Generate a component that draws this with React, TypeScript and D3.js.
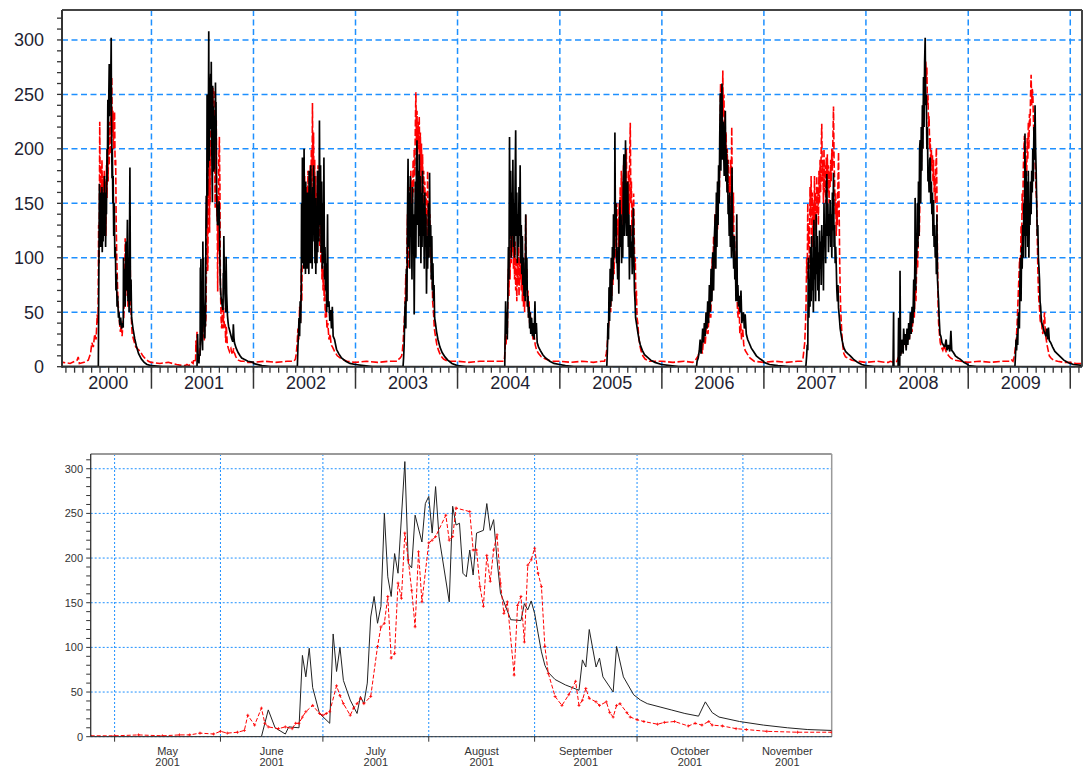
import React from 'react';
import * as d3 from 'd3';

// ---- daily flow, season 2001 (zoom panel), [date, value] ----
const black2001 = [
  ['2001-04-24', 0], ['2001-06-13', 0], ['2001-06-15', 30], ['2001-06-17', 10], ['2001-06-20', 3], ['2001-06-21', 11],
  ['2001-06-24', 10], ['2001-06-25', 91], ['2001-06-26', 67], ['2001-06-27', 99], ['2001-06-28', 55], ['2001-06-30', 26],
  ['2001-07-03', 15], ['2001-07-04', 115], ['2001-07-05', 73], ['2001-07-06', 100], ['2001-07-07', 63], ['2001-07-09', 41],
  ['2001-07-11', 26], ['2001-07-12', 45], ['2001-07-13', 37], ['2001-07-14', 60], ['2001-07-15', 134], ['2001-07-16', 157],
  ['2001-07-17', 127], ['2001-07-18', 146], ['2001-07-19', 250], ['2001-07-20', 179], ['2001-07-21', 157], ['2001-07-22', 205],
  ['2001-07-23', 183], ['2001-07-24', 246], ['2001-07-25', 308], ['2001-07-26', 194], ['2001-07-27', 189], ['2001-07-28', 248],
  ['2001-07-30', 218], ['2001-07-31', 261], ['2001-08-01', 269], ['2001-08-02', 228], ['2001-08-03', 280], ['2001-08-04', 224],
  ['2001-08-07', 151], ['2001-08-08', 258], ['2001-08-09', 237], ['2001-08-10', 239], ['2001-08-11', 183], ['2001-08-12', 179],
  ['2001-08-13', 209], ['2001-08-14', 181], ['2001-08-15', 228], ['2001-08-17', 231], ['2001-08-18', 261], ['2001-08-19', 231],
  ['2001-08-20', 243], ['2001-08-21', 198], ['2001-08-22', 161], ['2001-08-25', 131], ['2001-08-28', 130], ['2001-08-29', 149],
  ['2001-08-30', 142], ['2001-08-31', 152], ['2001-09-01', 138], ['2001-09-02', 116], ['2001-09-03', 95], ['2001-09-04', 80],
  ['2001-09-05', 72], ['2001-09-07', 64], ['2001-09-10', 58], ['2001-09-12', 55], ['2001-09-14', 52], ['2001-09-15', 86],
  ['2001-09-16', 78], ['2001-09-17', 120], ['2001-09-19', 78], ['2001-09-20', 88], ['2001-09-21', 67], ['2001-09-24', 50],
  ['2001-09-25', 101], ['2001-09-27', 67], ['2001-09-30', 47], ['2001-10-02', 41], ['2001-10-04', 37], ['2001-10-08', 33],
  ['2001-10-11', 30], ['2001-10-15', 26], ['2001-10-19', 23], ['2001-10-21', 39], ['2001-10-23', 27], ['2001-10-25', 22],
  ['2001-10-31', 17], ['2001-11-07', 13], ['2001-11-14', 10], ['2001-11-20', 8], ['2001-11-27', 7],
];

const red2001 = [
  ['2001-04-24', 1], ['2001-05-01', 1], ['2001-05-08', 2], ['2001-05-15', 1], ['2001-05-20', 2], ['2001-05-23', 2],
  ['2001-05-26', 4], ['2001-05-30', 3], ['2001-06-01', 6], ['2001-06-03', 4], ['2001-06-06', 5], ['2001-06-08', 7],
  ['2001-06-09', 24], ['2001-06-11', 13], ['2001-06-13', 32], ['2001-06-14', 15], ['2001-06-15', 11], ['2001-06-18', 9],
  ['2001-06-20', 11], ['2001-06-22', 9], ['2001-06-23', 15], ['2001-06-24', 15], ['2001-06-25', 22], ['2001-06-26', 28],
  ['2001-06-28', 35], ['2001-06-30', 26], ['2001-07-01', 24], ['2001-07-02', 26], ['2001-07-03', 28], ['2001-07-05', 57],
  ['2001-07-06', 46], ['2001-07-07', 37], ['2001-07-09', 24], ['2001-07-10', 32], ['2001-07-11', 37], ['2001-07-12', 43],
  ['2001-07-13', 37], ['2001-07-15', 45], ['2001-07-17', 101], ['2001-07-18', 123], ['2001-07-19', 127], ['2001-07-20', 157],
  ['2001-07-21', 88], ['2001-07-22', 93], ['2001-07-23', 172], ['2001-07-24', 155], ['2001-07-25', 228], ['2001-07-26', 198],
  ['2001-07-27', 164], ['2001-07-28', 123], ['2001-07-29', 207], ['2001-07-30', 151], ['2001-08-01', 217], ['2001-08-02', 220],
  ['2001-08-03', 224], ['2001-08-06', 248], ['2001-08-07', 220], ['2001-08-08', 224], ['2001-08-09', 256], ['2001-08-13', 252],
  ['2001-08-14', 209], ['2001-08-15', 209], ['2001-08-16', 168], ['2001-08-17', 146], ['2001-08-18', 203], ['2001-08-19', 174],
  ['2001-08-20', 209], ['2001-08-21', 226], ['2001-08-22', 172], ['2001-08-23', 138], ['2001-08-24', 151], ['2001-08-26', 69],
  ['2001-08-27', 147], ['2001-08-28', 157], ['2001-08-29', 106], ['2001-08-30', 192], ['2001-08-31', 198], ['2001-09-01', 211],
  ['2001-09-02', 183], ['2001-09-03', 168], ['2001-09-04', 101], ['2001-09-05', 71], ['2001-09-07', 45], ['2001-09-09', 35],
  ['2001-09-11', 47], ['2001-09-13', 62], ['2001-09-14', 35], ['2001-09-15', 41], ['2001-09-16', 54], ['2001-09-17', 43],
  ['2001-09-19', 39], ['2001-09-20', 35], ['2001-09-22', 39], ['2001-09-23', 27], ['2001-09-24', 22], ['2001-09-25', 35],
  ['2001-09-26', 37], ['2001-09-28', 27], ['2001-09-29', 22], ['2001-10-01', 19], ['2001-10-03', 17], ['2001-10-07', 14],
  ['2001-10-09', 16], ['2001-10-12', 17], ['2001-10-16', 12], ['2001-10-18', 15], ['2001-10-20', 13], ['2001-10-22', 17],
  ['2001-10-23', 13], ['2001-10-26', 12], ['2001-10-30', 9], ['2001-11-02', 8], ['2001-11-08', 6], ['2001-11-17', 5],
  ['2001-11-27', 5],
];

// ---- other years, [day of year, value] ----
const black2000 = [[0,0],[176,0],[178,95],[180,168],[181,120],[183,160],[184,110],[186,150],[187,125],[189,165],[190,105],[192,140],[193,115],[195,160],[196,120],[198,175],[199,130],[201,150],[202,110],[204,160],[205,140],[207,200],[208,170],[210,245],[211,200],[213,240],[215,278],[216,230],[218,265],[220,250],[222,302],[223,230],[225,173],[226,200],[228,150],[229,175],[231,120],[233,150],[235,100],[237,110],[239,70],[241,85],[243,55],[245,65],[248,45],[250,50],[253,38],[256,45],[259,35],[262,40],[265,36],[266,100],[268,60],[270,90],[272,55],[275,115],[277,70],[280,135],[282,60],[284,100],[286,50],[289,183],[291,60],[293,80],[295,45],[300,35],[306,26],[312,19],[320,12],[330,7],[340,4],[350,2],[364,1]];
const red2000 = [[0,3],[25,2],[50,4],[75,3],[100,6],[104,9],[108,3],[125,4],[140,6],[148,12],[153,22],[158,18],[163,30],[168,25],[172,48],[175,40],[177,130],[179,95],[181,225],[183,150],[185,185],[187,140],[189,190],[191,150],[193,175],[195,130],[197,180],[199,145],[201,170],[203,120],[205,185],[207,155],[209,200],[211,170],[213,215],[215,185],[217,225],[219,195],[221,240],[223,210],[224,266],[226,215],[228,235],[230,200],[232,225],[234,234],[236,185],[238,190],[240,130],[242,100],[244,80],[246,60],[249,50],[252,40],[255,32],[258,38],[261,28],[264,40],[267,45],[270,70],[272,118],[274,65],[276,70],[278,95],[280,100],[282,55],[285,60],[287,80],[290,95],[292,55],[294,45],[297,30],[302,25],[310,18],[318,16],[326,14],[335,10],[345,7],[355,5],[364,4]];
const black2001Head = [[0,1],[40,0]];
const black2001Tail = [[345,5],[364,4]];
const red2001Head = [[0,4],[30,3],[60,4],[90,2]];
const red2001Tail = [[345,4],[364,4]];
const black2002 = [[0,3],[30,1],[60,0],[157,0],[159,18],[161,30],[163,45],[165,28],[167,60],[169,40],[171,75],[172,150],[174,95],[175,192],[177,120],[178,165],[180,90],[181,200],[183,110],[184,150],[186,85],[187,170],[189,100],[190,140],[192,90],[193,160],[195,105],[196,145],[198,85],[199,180],[201,115],[202,155],[204,95],[205,185],[207,110],[209,150],[210,90],[212,165],[213,115],[215,185],[217,125],[218,175],[220,95],[222,155],[223,85],[225,135],[227,95],[229,180],[230,105],[232,165],[234,115],[236,226],[238,130],[240,185],[242,105],[244,170],[246,90],[248,150],[250,95],[252,192],[254,80],[256,110],[258,70],[260,95],[262,50],[265,140],[267,55],[270,60],[273,42],[276,52],[279,35],[282,55],[285,28],[290,25],[297,16],[305,12],[315,8],[330,5],[345,3],[364,2]];
const red2002 = [[0,4],[40,5],[80,4],[120,5],[145,5],[150,7],[153,12],[156,20],[159,35],[162,25],[165,55],[168,40],[171,90],[173,60],[175,130],[177,100],[179,160],[181,120],[183,175],[185,110],[187,150],[189,95],[191,165],[193,130],[195,180],[197,115],[199,160],[201,100],[203,185],[205,130],[207,200],[209,150],[211,242],[213,170],[215,215],[217,145],[219,190],[221,120],[223,175],[225,105],[227,160],[229,120],[231,185],[233,140],[235,170],[237,110],[239,150],[241,95],[243,130],[245,80],[247,110],[249,70],[251,90],[253,60],[255,75],[257,45],[260,55],[263,35],[266,40],[270,25],[274,30],[278,20],[283,18],[290,14],[300,10],[315,7],[335,5],[364,4]];
const black2003 = [[0,2],[30,1],[60,0],[170,0],[172,8],[174,20],[176,45],[178,60],[180,35],[182,90],[184,60],[186,140],[188,191],[190,110],[192,160],[194,90],[196,175],[198,120],[200,150],[202,80],[204,165],[206,110],[208,140],[210,48],[212,120],[214,170],[216,100],[218,190],[220,208],[222,130],[224,180],[226,110],[228,195],[230,120],[232,175],[234,95],[236,160],[238,110],[240,180],[242,120],[244,150],[246,90],[248,160],[250,110],[252,140],[254,67],[256,120],[258,90],[261,150],[263,100],[265,178],[267,110],[269,130],[271,80],[273,120],[275,70],[277,95],[279,60],[281,75],[283,45],[286,40],[290,32],[295,25],[302,18],[310,13],[320,9],[330,6],[345,3],[364,1]];
const red2003 = [[0,4],[40,5],[80,4],[120,5],[150,5],[155,7],[160,8],[165,10],[168,15],[171,25],[174,40],[177,55],[180,85],[182,60],[184,110],[186,140],[188,90],[190,150],[192,120],[194,165],[196,130],[198,180],[200,145],[202,170],[204,150],[206,190],[208,160],[210,200],[212,175],[214,220],[216,252],[218,205],[220,235],[222,190],[224,225],[226,200],[228,230],[230,185],[232,215],[234,175],[236,205],[238,160],[240,195],[242,150],[244,180],[246,140],[248,170],[250,130],[252,160],[254,150],[256,120],[258,180],[260,140],[262,150],[264,120],[266,140],[268,100],[270,110],[272,80],[274,90],[276,60],[279,50],[282,35],[286,28],[291,20],[297,15],[305,10],[315,7],[330,5],[364,5]];
const black2004 = [[0,1],[30,0],[169,0],[170,25],[172,60],[174,30],[176,50],[178,25],[180,65],[182,110],[184,80],[186,211],[188,120],[190,180],[192,100],[194,160],[196,120],[198,190],[200,110],[202,150],[204,100],[206,170],[208,217],[210,120],[212,160],[214,95],[216,140],[218,110],[220,165],[222,120],[224,185],[226,95],[228,130],[230,85],[232,120],[234,75],[236,100],[238,65],[240,90],[242,60],[244,140],[246,70],[248,100],[250,55],[252,65],[254,45],[256,55],[258,35],[260,50],[262,30],[265,45],[268,28],[271,40],[274,25],[277,60],[279,30],[282,40],[285,22],[290,18],[296,15],[305,11],[315,8],[330,5],[345,3],[365,2]];
const red2004 = [[0,5],[40,4],[80,5],[120,5],[150,5],[165,5],[168,8],[170,15],[172,30],[174,20],[176,45],[178,30],[180,60],[182,90],[184,65],[186,110],[188,80],[190,130],[192,95],[194,140],[196,105],[198,130],[200,90],[202,125],[204,80],[206,115],[208,70],[210,100],[212,60],[214,95],[216,75],[218,110],[220,65],[222,100],[224,80],[226,120],[228,70],[230,105],[232,60],[234,90],[236,55],[238,80],[240,50],[242,95],[244,139],[246,75],[248,90],[250,55],[252,70],[254,45],[256,60],[258,40],[261,50],[264,30],[267,35],[270,25],[274,30],[278,20],[283,15],[290,12],[300,9],[315,7],[335,5],[365,5]];
const black2005 = [[0,2],[20,1],[50,0],[168,0],[170,15],[172,40],[174,25],[176,73],[178,42],[180,90],[182,55],[184,100],[186,60],[188,110],[190,80],[192,140],[194,100],[196,130],[197,215],[199,120],[201,150],[203,95],[205,100],[207,80],[209,110],[211,67],[213,120],[215,153],[217,110],[219,140],[221,95],[223,130],[225,100],[227,170],[229,195],[231,120],[233,160],[235,208],[237,140],[239,120],[241,165],[243,170],[245,110],[247,140],[249,80],[251,120],[253,130],[255,100],[257,115],[259,85],[261,120],[263,146],[265,100],[267,70],[269,60],[271,45],[274,40],[277,35],[280,30],[284,24],[288,20],[295,15],[303,11],[312,9],[325,6],[340,4],[364,2]];
const red2005 = [[0,5],[40,4],[80,5],[120,4],[150,5],[160,5],[163,8],[166,12],[169,18],[172,30],[175,40],[178,55],[180,70],[182,50],[184,90],[186,65],[188,100],[190,75],[192,110],[194,85],[196,120],[198,100],[200,140],[202,110],[204,150],[206,120],[208,135],[210,105],[212,150],[214,120],[216,165],[218,130],[220,180],[222,140],[224,170],[226,125],[228,185],[230,150],[232,190],[234,145],[236,175],[238,200],[240,150],[242,170],[244,130],[246,180],[248,140],[250,195],[252,224],[254,150],[256,170],[258,120],[260,150],[262,110],[264,159],[266,120],[268,90],[270,100],[272,60],[274,70],[276,45],[279,40],[282,28],[286,20],[290,15],[297,10],[305,7],[320,5],[364,5]];
const black2006 = [[0,2],[30,1],[60,0],[124,0],[126,5],[130,8],[134,15],[137,25],[140,12],[143,20],[146,35],[149,22],[152,40],[155,28],[158,50],[161,35],[164,60],[167,40],[170,75],[173,50],[176,90],[179,60],[182,105],[185,70],[188,120],[191,140],[193,90],[195,160],[197,110],[199,170],[201,130],[203,185],[205,150],[207,210],[209,251],[211,180],[213,230],[215,260],[217,190],[219,225],[221,200],[223,175],[225,215],[227,235],[229,170],[231,200],[233,160],[235,190],[237,140],[239,150],[241,120],[243,160],[245,110],[247,140],[249,100],[251,183],[253,120],[255,110],[257,90],[259,120],[261,80],[263,100],[265,60],[268,140],[270,60],[272,75],[274,55],[277,65],[280,50],[283,70],[286,40],[289,45],[292,50],[295,35],[298,48],[302,30],[307,25],[312,22],[320,17],[328,14],[338,10],[352,7],[364,5]];
const red2006 = [[0,5],[40,4],[80,5],[110,4],[120,6],[125,8],[130,10],[135,15],[140,20],[145,12],[150,30],[155,20],[160,40],[165,30],[170,55],[175,45],[180,100],[182,70],[185,120],[188,90],[190,140],[193,110],[196,150],[199,125],[202,170],[205,150],[208,200],[210,260],[212,230],[214,250],[216,215],[218,272],[220,230],[222,250],[224,210],[226,235],[228,195],[230,215],[232,170],[234,200],[236,160],[238,190],[240,150],[242,175],[244,140],[246,190],[248,160],[250,220],[252,150],[254,130],[256,160],[258,110],[260,120],[262,90],[264,100],[266,70],[268,80],[270,55],[273,45],[276,60],[279,30],[282,40],[285,25],[289,35],[293,20],[298,15],[305,12],[315,8],[330,5],[364,4]];
const black2007 = [[0,4],[20,2],[50,1],[90,0],[150,0],[153,10],[155,20],[157,15],[159,100],[161,45],[163,80],[165,55],[167,110],[169,60],[171,120],[173,70],[175,100],[177,50],[179,135],[181,80],[183,110],[185,60],[187,140],[189,85],[191,120],[193,70],[195,105],[197,60],[199,125],[201,90],[203,115],[205,75],[207,130],[209,100],[211,120],[213,70],[215,150],[217,110],[219,130],[221,95],[223,160],[225,177],[227,120],[229,150],[231,105],[233,140],[235,120],[237,153],[239,110],[241,140],[243,100],[245,160],[247,125],[249,178],[251,110],[253,130],[255,95],[257,110],[259,91],[261,70],[263,60],[265,75],[267,54],[270,45],[273,35],[276,30],[280,24],[285,18],[292,14],[300,12],[309,10],[320,7],[335,4],[350,2],[364,1]];
const red2007 = [[0,4],[40,5],[80,4],[120,5],[135,5],[140,8],[143,15],[146,22],[149,40],[151,60],[153,100],[155,80],[157,150],[159,110],[161,130],[163,90],[165,165],[167,137],[169,175],[171,120],[173,160],[175,110],[177,150],[179,130],[181,175],[183,125],[185,160],[187,120],[189,175],[191,140],[193,165],[195,130],[197,180],[199,150],[201,190],[203,160],[205,200],[207,223],[209,170],[211,190],[213,150],[215,200],[217,160],[219,185],[221,150],[223,192],[225,170],[227,195],[229,160],[231,185],[233,150],[235,180],[237,165],[239,190],[241,170],[243,200],[245,180],[247,210],[249,239],[251,190],[253,170],[255,140],[257,160],[259,120],[261,150],[263,130],[265,170],[267,197],[269,150],[271,100],[273,70],[275,50],[277,40],[279,30],[282,20],[286,12],[292,9],[300,8],[315,6],[335,5],[364,4]];
const black2008 = [[0,1],[30,0],[97,0],[99,50],[100,0],[115,0],[117,45],[118,5],[121,0],[122,88],[124,10],[127,15],[130,25],[133,12],[135,35],[138,20],[141,30],[144,15],[147,35],[150,20],[153,40],[156,25],[159,50],[162,30],[165,55],[168,40],[171,80],[173,50],[175,95],[176,155],[178,70],[180,110],[182,100],[184,150],[186,110],[188,170],[190,120],[192,200],[194,208],[196,150],[198,220],[200,180],[202,240],[204,200],[206,266],[208,220],[210,280],[212,302],[214,240],[216,250],[218,200],[220,220],[222,170],[224,180],[226,160],[228,190],[230,192],[232,150],[234,170],[236,140],[238,160],[240,120],[242,153],[244,110],[246,130],[248,100],[250,120],[252,85],[254,140],[256,80],[258,70],[260,60],[262,45],[265,30],[268,28],[272,22],[277,20],[282,18],[287,25],[290,15],[295,20],[300,14],[304,33],[307,15],[313,13],[320,10],[330,8],[337,7],[350,4],[365,2]];
const red2008 = [[0,4],[40,5],[69,4],[80,4],[87,5],[100,4],[111,5],[115,8],[120,10],[125,12],[130,15],[135,18],[140,22],[145,18],[150,28],[155,25],[160,38],[165,32],[170,50],[173,45],[176,70],[179,60],[182,100],[185,90],[188,130],[191,120],[194,170],[196,200],[198,180],[200,220],[202,200],[204,240],[206,230],[208,260],[210,250],[212,270],[214,281],[216,260],[218,275],[220,240],[222,250],[224,220],[226,230],[228,200],[230,210],[232,185],[234,200],[236,180],[238,195],[240,170],[242,190],[244,160],[246,175],[248,150],[250,180],[252,201],[254,160],[256,100],[258,60],[260,40],[263,30],[266,22],[270,18],[275,15],[280,20],[285,15],[290,12],[296,10],[303,8],[310,7],[320,6],[340,5],[365,4]];
const black2009 = [[0,1],[30,0],[167,0],[169,10],[171,25],[173,15],[175,30],[177,20],[179,45],[181,50],[183,35],[185,80],[187,100],[189,60],[191,110],[193,90],[195,130],[197,100],[199,150],[201,120],[203,214],[205,100],[207,180],[209,120],[211,170],[213,110],[215,180],[217,100],[219,150],[221,130],[223,170],[225,140],[227,180],[229,160],[231,200],[233,170],[235,220],[237,190],[239,240],[241,200],[243,180],[245,150],[247,120],[249,130],[251,100],[253,91],[255,80],[257,60],[259,55],[261,45],[263,40],[266,38],[269,35],[272,32],[275,30],[278,28],[281,35],[284,25],[287,36],[290,24],[295,22],[302,18],[310,14],[318,12],[330,9],[342,6],[355,4],[364,3]];
const red2009 = [[0,4],[40,5],[80,4],[120,5],[151,5],[155,6],[160,5],[163,8],[166,12],[169,18],[172,25],[175,40],[178,60],[181,80],[184,100],[187,90],[189,130],[191,110],[193,160],[195,140],[197,180],[199,200],[201,212],[203,170],[205,160],[207,190],[209,175],[211,210],[213,190],[215,225],[217,200],[219,232],[221,220],[223,250],[225,268],[227,240],[229,255],[231,251],[233,230],[235,210],[237,200],[239,190],[241,175],[243,160],[245,150],[247,120],[249,90],[251,70],[253,60],[255,54],[258,40],[261,45],[264,35],[267,30],[270,40],[273,50],[276,30],[279,25],[282,20],[286,15],[290,10],[296,8],[305,6],[320,5],[340,4],[364,4]];
const black2010 = [[0,3],[12,2],[50,1]];
const red2010 = [[0,4],[20,3],[50,3]];

const yearLabels = ['2000', '2001', '2002', '2003', '2004', '2005', '2006', '2007', '2008', '2009'];
const topYTicks = [0, 50, 100, 150, 200, 250, 300];
const bottomYTicks = [0, 50, 100, 150, 200, 250, 300];

const colors = {
  grid: '#1e90ff',
  axis: '#333333',
  frame: '#444444',
  frameLight: '#9a9a9a',
  label: '#1f1f33',
  black: '#000000',
  red: '#ff0000',
};
const font = '"Liberation Sans", Arial, sans-serif';

const parse = d3.timeParse('%Y-%m-%d');
const fromDates = (rows) => rows.map(([d, v]) => ({ date: parse(d), value: v }));
const fromDoy = (year, rows) => {
  const base = new Date(year, 0, 1);
  return rows.map(([d, v]) => ({ date: d3.timeDay.offset(base, d), value: v }));
};

const topBlack = [
  ...fromDoy(2000, black2000),
  ...fromDoy(2001, black2001Head), ...fromDates(black2001), ...fromDoy(2001, black2001Tail),
  ...fromDoy(2002, black2002), ...fromDoy(2003, black2003), ...fromDoy(2004, black2004),
  ...fromDoy(2005, black2005), ...fromDoy(2006, black2006), ...fromDoy(2007, black2007),
  ...fromDoy(2008, black2008), ...fromDoy(2009, black2009), ...fromDoy(2010, black2010),
];
const topRed = [
  ...fromDoy(2000, red2000),
  ...fromDoy(2001, red2001Head), ...fromDates(red2001), ...fromDoy(2001, red2001Tail),
  ...fromDoy(2002, red2002), ...fromDoy(2003, red2003), ...fromDoy(2004, red2004),
  ...fromDoy(2005, red2005), ...fromDoy(2006, red2006), ...fromDoy(2007, red2007),
  ...fromDoy(2008, red2008), ...fromDoy(2009, red2009), ...fromDoy(2010, red2010),
];

const TopPanel = () => {
  const left = 62, right = 1082, top = 10, bottom = 366.7;
  const start = new Date(2000, 1, 16), end = new Date(2010, 1, 12);
  const x = d3.scaleTime().domain([start, end]).range([left, right]);
  const y = d3.scaleLinear().domain([0, 327.5]).range([bottom, top]);
  const line = d3.line().x((d) => x(d.date)).y((d) => y(d.value));
  const months = d3.timeMonth.range(d3.timeMonth.ceil(start), end);
  const years = d3.timeYear.range(d3.timeYear.ceil(start), end);
  const minorY = d3.range(0, 330, 10);

  return (
    <g>
      <defs>
        <clipPath id="clipTop">
          <rect x={left} y={top} width={right - left} height={bottom - top} />
        </clipPath>
      </defs>
      {/* grid */}
      {topYTicks.map((t) => (
        <line key={'gy' + t} x1={left} x2={right} y1={y(t)} y2={y(t)} stroke={colors.grid} strokeWidth={1.5} strokeDasharray="6,3.5" />
      ))}
      {years.map((d) => (
        <line key={'gx' + d.getFullYear()} x1={x(d)} x2={x(d)} y1={top} y2={bottom} stroke={colors.grid} strokeWidth={1.5} strokeDasharray="6,3.5" />
      ))}
      {/* series */}
      <g clipPath="url(#clipTop)">
        <path d={line(topRed)} fill="none" stroke={colors.red} strokeWidth={1.6} strokeDasharray="7,2.5" />
        <path d={line(topBlack)} fill="none" stroke={colors.black} strokeWidth={1.7} strokeLinejoin="miter" strokeMiterlimit={2} />
      </g>
      {/* frame */}
      <line x1={left} x2={right} y1={top} y2={top} stroke={colors.frame} strokeWidth={2} />
      <line x1={right} x2={right} y1={top} y2={bottom} stroke={colors.frame} strokeWidth={2} />
      <line x1={left} x2={left} y1={top} y2={bottom + 1} stroke={colors.axis} strokeWidth={2} />
      <line x1={left} x2={right} y1={bottom} y2={bottom} stroke={colors.axis} strokeWidth={2} />
      {/* y ticks */}
      {minorY.map((t) => (
        <line key={'ty' + t} x1={left - 5} x2={left} y1={y(t)} y2={y(t)} stroke={colors.axis} strokeWidth={1.3} />
      ))}
      {topYTicks.map((t) => (
        <text key={'ly' + t} x={44} y={y(t)} dy="0.35em" textAnchor="end" fontSize={18} fontFamily={font} fill={colors.label}>
          {t}
        </text>
      ))}
      {/* x ticks */}
      {months.map((d) => (
        <line key={'tm' + +d} x1={x(d)} x2={x(d)} y1={bottom} y2={bottom + 6} stroke={colors.axis} strokeWidth={1.3} />
      ))}
      {years.map((d) => (
        <line key={'ty' + +d} x1={x(d)} x2={x(d)} y1={bottom} y2={bottom + 22} stroke={colors.axis} strokeWidth={1.5} />
      ))}
      {yearLabels.map((lab) => {
        const yr = +lab;
        const a = x(d3.max([start, new Date(yr, 0, 1)]));
        const b = x(d3.min([end, new Date(yr + 1, 0, 1)]));
        return (
          <text key={'lx' + lab} x={(a + b) / 2 + 1.5} y={389} textAnchor="middle" fontSize={18} fontFamily={font} fill={colors.label}>
            {lab}
          </text>
        );
      })}
    </g>
  );
};

const BottomPanel = () => {
  const left = 90.7, right = 831.7, top = 454, bottom = 736.7;
  const start = new Date(2001, 3, 24), end = new Date(2001, 10, 27);
  const x = d3.scaleTime().domain([start, end]).range([left, right]);
  const y = d3.scaleLinear().domain([0, 316.5]).range([bottom, top]);
  const line = d3.line().x((d) => x(d.date)).y((d) => y(d.value));
  const blackPts = fromDates(black2001);
  const redPts = fromDates(red2001);
  const months = d3.timeMonth.range(d3.timeMonth.ceil(start), end);
  const minorY = d3.range(0, 320, 10);
  const fmtMonth = d3.timeFormat('%B');
  const fmtYear = d3.timeFormat('%Y');

  return (
    <g>
      <defs>
        <clipPath id="clipBottom">
          <rect x={left} y={top} width={right - left} height={bottom - top} />
        </clipPath>
      </defs>
      {bottomYTicks.map((t) => (
        <line key={'gy' + t} x1={left} x2={right} y1={y(t)} y2={y(t)} stroke={colors.grid} strokeWidth={1} strokeDasharray="2,2" />
      ))}
      {months.map((d) => (
        <line key={'gx' + +d} x1={x(d)} x2={x(d)} y1={top} y2={bottom} stroke={colors.grid} strokeWidth={1} strokeDasharray="2,2" />
      ))}
      <line x1={left} x2={right} y1={top} y2={top} stroke={colors.frameLight} strokeWidth={2} />
      <line x1={right} x2={right} y1={top} y2={bottom} stroke={colors.frameLight} strokeWidth={1.5} />
      <g clipPath="url(#clipBottom)">
        <path d={line(blackPts)} fill="none" stroke="#222222" strokeWidth={1} />
        <path d={line(redPts)} fill="none" stroke={colors.red} strokeWidth={1} strokeDasharray="4,2" />
        {redPts.map((p, i) => (
          <path
            key={'m' + i}
            d={`M${x(p.date) - 1.5},${y(p.value)}h3M${x(p.date)},${y(p.value) - 1.5}v3`}
            stroke={colors.red}
            strokeWidth={0.8}
          />
        ))}
      </g>
      <line x1={left} x2={left} y1={top} y2={bottom} stroke={colors.axis} strokeWidth={1.3} />
      <line x1={left} x2={right} y1={bottom} y2={bottom} stroke={colors.axis} strokeWidth={1} />
      {minorY.map((t) => (
        <line key={'ty' + t} x1={left - 4.5} x2={left} y1={y(t)} y2={y(t)} stroke={colors.axis} strokeWidth={1} />
      ))}
      {bottomYTicks.map((t) => (
        <text key={'ly' + t} x={83} y={y(t)} dy="0.35em" textAnchor="end" fontSize={11} fontFamily={font} fill={colors.axis}>
          {t}
        </text>
      ))}
      {months.map((d) => (
        <line key={'tx' + +d} x1={x(d)} x2={x(d)} y1={bottom} y2={bottom + 5} stroke={colors.axis} strokeWidth={1} />
      ))}
      {months.map((d) => {
        const next = d3.min([end, d3.timeMonth.offset(d, 1)]);
        const cx = (x(d) + x(next)) / 2;
        return (
          <g key={'lx' + +d}>
            <text x={cx} y={755} textAnchor="middle" fontSize={11} fontFamily={font} fill={colors.axis}>
              {fmtMonth(d)}
            </text>
            <text x={cx} y={766} textAnchor="middle" fontSize={11} fontFamily={font} fill={colors.axis}>
              {fmtYear(d)}
            </text>
          </g>
        );
      })}
    </g>
  );
};

export default function App() {
  return (
    <svg
      width={1089}
      height={767}
      viewBox="0 0 1089 767"
      style={{ position: 'absolute', left: 0, top: 0, background: '#ffffff' }}
    >
      <rect x={0} y={0} width={1089} height={767} fill="#ffffff" />
      <TopPanel />
      <BottomPanel />
    </svg>
  );
}
